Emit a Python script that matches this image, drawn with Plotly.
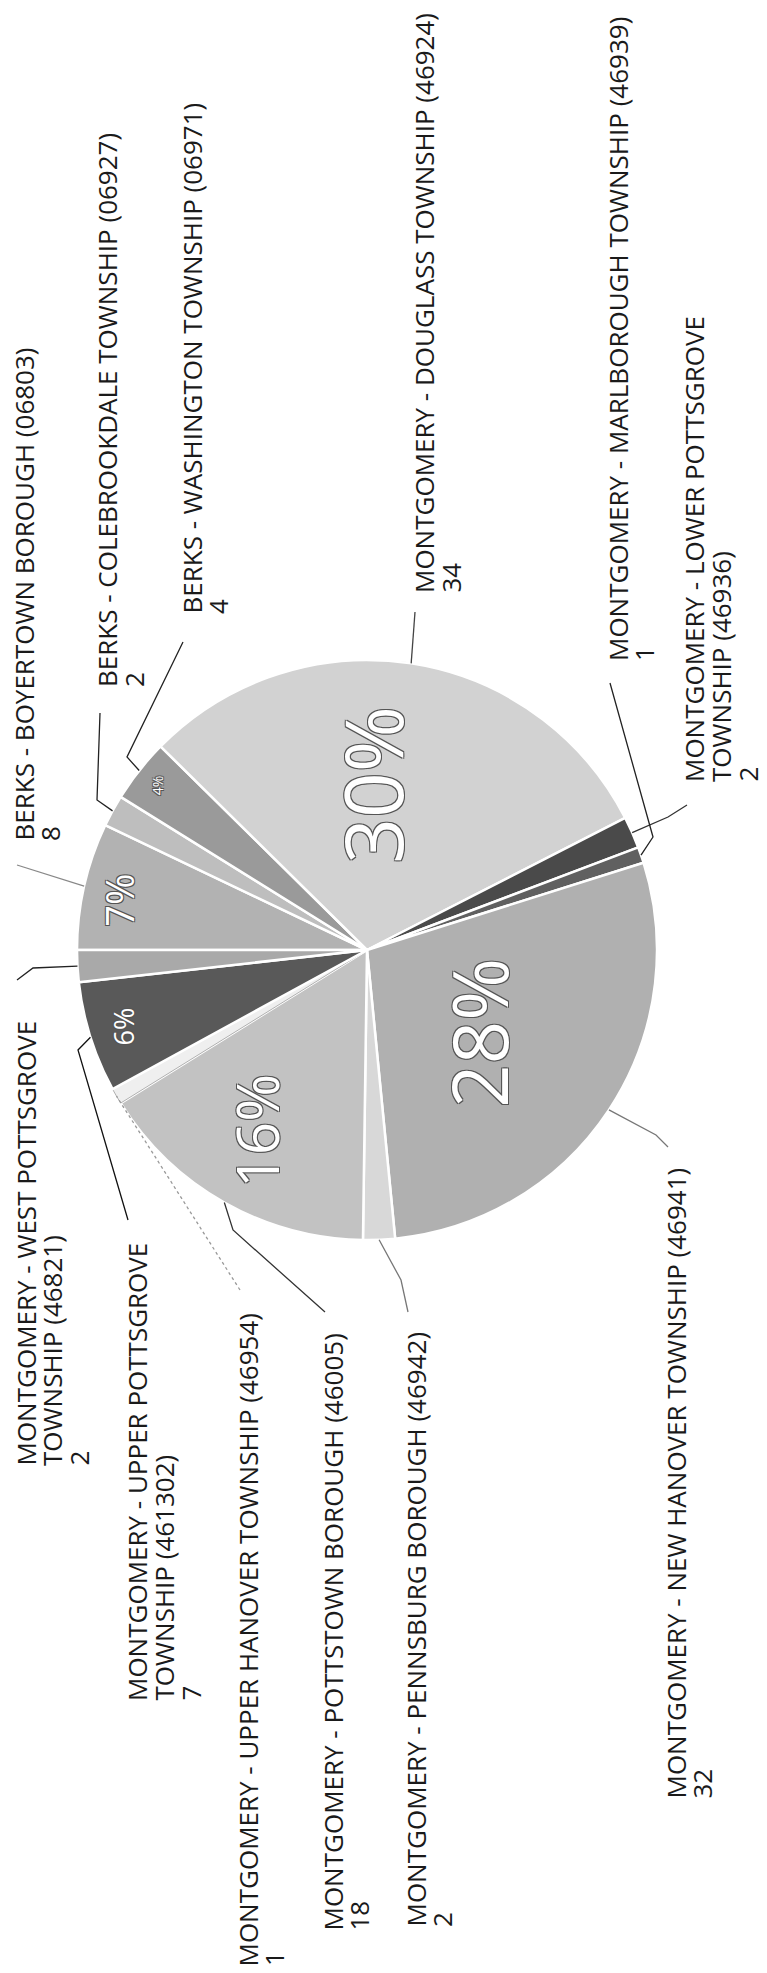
import math
import plotly.graph_objects as go

# ---------------- data ----------------
label_lines = [
    ["BERKS - BOYERTOWN BOROUGH (06803)"],
    ["BERKS - COLEBROOKDALE TOWNSHIP (06927)"],
    ["BERKS - WASHINGTON TOWNSHIP (06971)"],
    ["MONTGOMERY - DOUGLASS TOWNSHIP (46924)"],
    ["MONTGOMERY - LOWER POTTSGROVE", "TOWNSHIP (46936)"],
    ["MONTGOMERY - MARLBOROUGH TOWNSHIP (46939)"],
    ["MONTGOMERY - NEW HANOVER TOWNSHIP (46941)"],
    ["MONTGOMERY - PENNSBURG BOROUGH (46942)"],
    ["MONTGOMERY - POTTSTOWN BOROUGH (46005)"],
    ["MONTGOMERY - UPPER HANOVER TOWNSHIP (46954)"],
    ["MONTGOMERY - UPPER POTTSGROVE", "TOWNSHIP (461302)"],
    ["MONTGOMERY - WEST POTTSGROVE", "TOWNSHIP (46821)"],
]
values = [8, 2, 4, 34, 2, 1, 32, 2, 18, 1, 7, 2]
labels = [" ".join(l) for l in label_lines]

# ---------------- styles / layout ----------------
W, H = 767, 1973
CX, CY, R = 367, 950, 290
ROTATION = -90
FONT = "Open Sans"

slice_colors = ["#b2b2b2", "#bebebe", "#9a9a9a", "#d2d2d2", "#4a4a4a", "#606060",
                "#b0b0b0", "#d8d8d8", "#c2c2c2", "#efefef", "#595959", "#a9a9a9"]
line_colors = ["white"] * 12
line_colors[9] = "#b0b0b0"
line_widths = [2.5] * 12
line_widths[9] = 1

# label placement: first line centre x, bottom y (pixels)
label_pos = [(23, 842), (107, 688), (192, 615), (424, 594), (694, 783), (618, 662),
             (675, 1800), (415, 1928), (332, 1932), (247, 1967), (137, 1702), (25, 1467)]
LINE_STEP = 26.5
LABEL_SIZE = 26

# leader lines: points from label towards the slice (pixels); slice edge point appended
leader_pts = [
    [(17, 865)],
    [(100, 713), (97, 800)],
    [(183, 642), (127, 757)],
    [(415, 612)],
    [(687, 805), (668, 817)],
    [(610, 683), (653, 837)],
    [(668, 1147), (656, 1135)],
    [(408, 1312), (401, 1280)],
    [(325, 1312), (233, 1230)],
    [(240, 1290)],
    [(128, 1220), (78, 1050)],
    [(17, 980), (33, 968)],
]
leader_color = ["#888", "#222", "#222", "#444", "#333", "#222",
                "#777", "#777", "#333", "#999", "#111", "#222"]
leader_dash = ["solid"] * 12
leader_dash[9] = "dot"

# percentage text inside slices (radius fraction, angular shift in degrees, font size)
pct_radius = [0.875, None, 0.92, 0.57, None, None, 0.48, None, 0.73, None, 0.88, None]
pct_shift = [-1.5, 0, 0, -7, 0, 0, 3, 0, 2, 0, 0, 0]
pct_size = [38, None, 14, 80, None, None, 76, None, 58, None, 27, None]


def px(x):
    return x / W


def py(y):
    return 1 - y / H


total = sum(values)

fig = go.Figure()
fig.add_trace(go.Pie(
    labels=labels,
    values=values,
    sort=False,
    direction="clockwise",
    rotation=ROTATION,
    textinfo="none",
    hoverinfo="label+value+percent",
    showlegend=False,
    marker=dict(colors=slice_colors, line=dict(color=line_colors, width=line_widths)),
    domain=dict(x=[px(CX - R), px(CX + R)], y=[py(CY + R), py(CY - R)]),
))

annotations = []
shapes = []
cum = 0
for i, v in enumerate(values):
    a_deg = ROTATION + 360 * (cum + v / 2) / total
    a = math.radians(a_deg)
    cum += v
    # labels
    lx, ly = label_pos[i]
    lines = label_lines[i] + [str(v)]
    for k, t in enumerate(lines):
        annotations.append(dict(
            x=px(lx + k * LINE_STEP), y=py(ly), xref="paper", yref="paper",
            text=t, showarrow=False, textangle=-90,
            xanchor="center", yanchor="bottom", borderpad=0,
            font=dict(family=FONT, size=LABEL_SIZE, color="#1a1a1a"),
        ))
    # leader line
    ex, ey = CX + R * math.sin(a), CY - R * math.cos(a)
    pts = leader_pts[i] + [(ex, ey)]
    path = "M " + " L ".join(f"{px(x):.5f},{py(y):.5f}" for x, y in pts)
    shapes.append(dict(type="path", path=path, xref="paper", yref="paper",
                       line=dict(color=leader_color[i], width=1.3, dash=leader_dash[i]),
                       layer="above"))
    # percentage
    if pct_radius[i] is not None:
        rf = pct_radius[i]
        b = math.radians(a_deg + pct_shift[i])
        tx, ty = CX + rf * R * math.sin(b), CY - rf * R * math.cos(b)
        annotations.append(dict(
            x=px(tx), y=py(ty), xref="paper", yref="paper",
            text=f"{round(100 * v / total)}%", showarrow=False, textangle=-90,
            xanchor="center", yanchor="middle",
            font=dict(family=FONT, size=pct_size[i], color="white",
                      shadow="1px 1px 0 #555, -1px -1px 0 #555, 1px -1px 0 #555, -1px 1px 0 #555"),
        ))

fig.update_layout(
    width=W, height=H,
    margin=dict(l=0, r=0, t=0, b=0),
    paper_bgcolor="white", plot_bgcolor="white",
    annotations=annotations,
    shapes=shapes,
)

fig.write_html("out.html")
